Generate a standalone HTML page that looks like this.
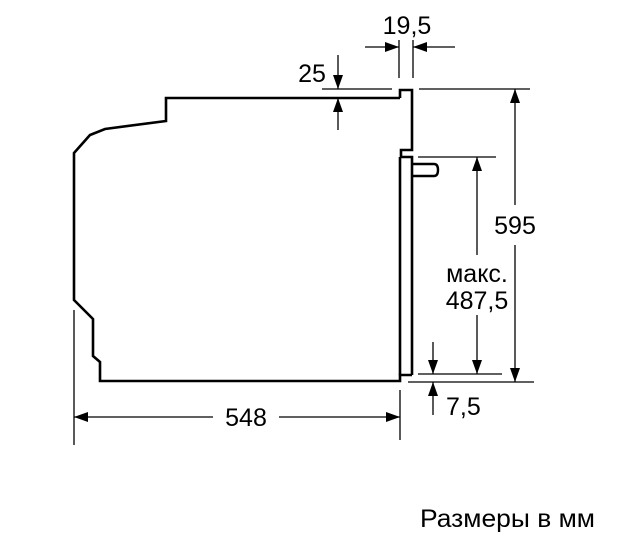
<!DOCTYPE html>
<html><head><meta charset="utf-8"><style>
html,body{margin:0;padding:0;background:#fff;}
svg text{font-family:"Liberation Sans",sans-serif;fill:#000;}
</style></head><body>
<svg width="642" height="534" viewBox="0 0 642 534" xmlns="http://www.w3.org/2000/svg">
<defs>
<marker id="a" viewBox="0 0 14 10" refX="14" refY="5" markerWidth="14" markerHeight="10" markerUnits="userSpaceOnUse" orient="auto"><path d="M0,0 L14,5 L0,10 Z" fill="#000"/></marker>
</defs>
<g fill="none" stroke="#000">
<polyline stroke-width="2.6" points="400,98 166,98 166,121 105,129 90,135 74,153 74,300 93,319 93,356 100,362 100,381 400,381 400,375 412,375"/>
<polyline stroke-width="2.6" points="400,98 400,90 412,90 412,150 401,150 401,157 412,157 412,375"/>
<line stroke-width="2.6" x1="400" y1="157" x2="400" y2="375"/>
<path stroke-width="2.4" d="M412,164 H434 Q438,164 438,170 Q438,176 434,176 H412"/>
<g stroke-width="1.3">
<line x1="399" y1="40" x2="399" y2="78"/>
<line x1="413" y1="40" x2="413" y2="78"/>
<line x1="365" y1="47" x2="399" y2="47" marker-end="url(#a)"/>
<line x1="455" y1="47" x2="413" y2="47" marker-end="url(#a)"/>
<line x1="322" y1="89" x2="392" y2="89"/>
<line x1="338" y1="55" x2="338" y2="89" marker-end="url(#a)"/>
<line x1="338" y1="130" x2="338" y2="98" marker-end="url(#a)"/>
<line x1="419" y1="89" x2="530" y2="89"/>
<line x1="418" y1="157" x2="496" y2="157"/>
<line x1="515" y1="205" x2="515" y2="89" marker-end="url(#a)"/>
<line x1="515" y1="245" x2="515" y2="382" marker-end="url(#a)"/>
<line x1="477" y1="255" x2="477" y2="157" marker-end="url(#a)"/>
<line x1="477" y1="315" x2="477" y2="374" marker-end="url(#a)"/>
<line x1="418" y1="374" x2="502" y2="374"/>
<line x1="408" y1="382" x2="534" y2="382"/>
<line x1="433" y1="342" x2="433" y2="374" marker-end="url(#a)"/>
<line x1="433" y1="415" x2="433" y2="382" marker-end="url(#a)"/>
<line x1="74" y1="310" x2="74" y2="445"/>
<line x1="400" y1="390" x2="400" y2="440"/>
<line x1="213" y1="417" x2="74" y2="417" marker-end="url(#a)"/>
<line x1="279" y1="417" x2="400" y2="417" marker-end="url(#a)"/>
</g>
</g>
<g font-size="25">
<text x="407" y="34" text-anchor="middle">19,5</text>
<text x="312" y="82" text-anchor="middle">25</text>
<text x="515" y="234" text-anchor="middle">595</text>
<text x="477" y="282" text-anchor="middle">макс.</text>
<text x="477" y="309" text-anchor="middle">487,5</text>
<text x="446" y="415">7,5</text>
<text x="246" y="426" text-anchor="middle">548</text>
<text x="420" y="527" font-size="25" textLength="175" lengthAdjust="spacingAndGlyphs">Размеры в мм</text>
</g>
</svg>
</body></html>
